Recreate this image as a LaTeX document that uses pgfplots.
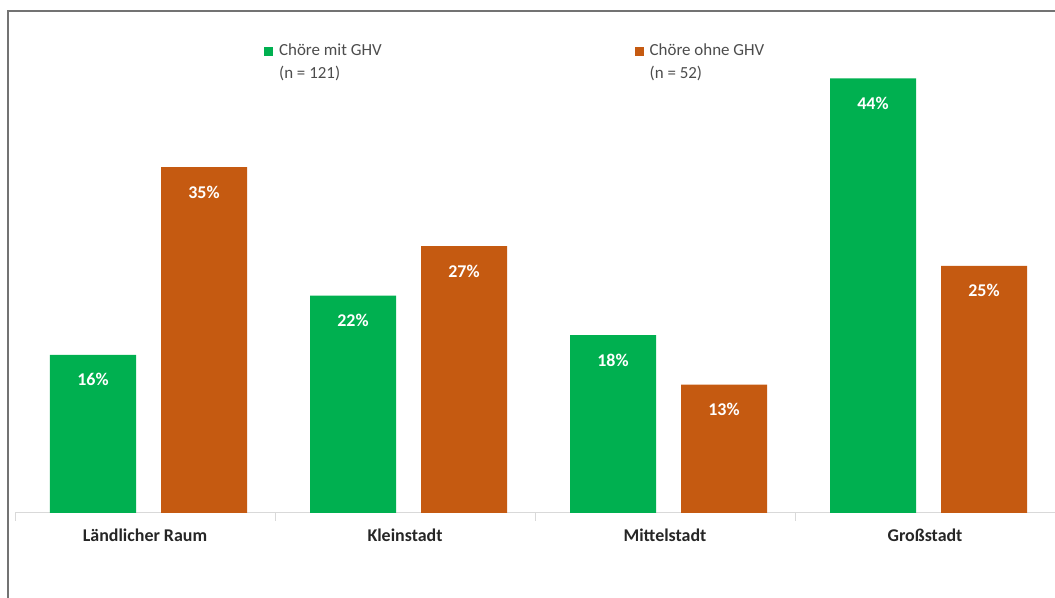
\documentclass[border=0pt]{standalone}
\usepackage{fontspec}
\setmainfont{Carlito}
\usepackage{pgfplots}
\pgfplotsset{compat=1.18}
\definecolor{cgreen}{HTML}{00B050}
\definecolor{corange}{HTML}{C55A11}
\begin{document}
\begin{tikzpicture}[x=1bp,y=1bp]
\path[use as bounding box] (0,0) rectangle (1055,598);
\draw[color=black!55, line width=1.5bp] (8,0) -- (8,587) -- (1055,587);
\begin{axis}[
  at={(15bp,85bp)}, anchor=south west,
  scale only axis, width=1040bp, height=494bp,
  xmin=-0.5, xmax=3.5, ymin=0, ymax=50,
  axis x line=bottom, axis y line=none,
  x axis line style={-, draw=black!15, line width=1bp},
  xtick={0,1,2,3},
  xticklabels={Ländlicher Raum, Kleinstadt, Mittelstadt, Großstadt},
  major tick length=0pt,
  minor xtick={-0.5,0.5,1.5,2.5},
  minor tick length=8bp, tick align=outside,
  minor tick style={draw=black!15},
  xticklabel style={font=\fontsize{18}{20}\selectfont\bfseries, text=black!85, yshift=-12bp},
  /pgf/number format/assume math mode=true,
  ybar, bar width=86bp,
  nodes near coords={\pgfmathprintnumber{\pgfplotspointmeta}\%},
  nodes near coords style={font=\fontsize{18}{20}\selectfont\bfseries, text=white, anchor=north, yshift=-15bp},
  legend columns=2,
  legend image code/.code={\fill[#1] (0bp,5bp) rectangle (9bp,14bp);},
  legend style={at={(0.2365,0.955)}, anchor=north west, draw=none, fill=none,
    font=\fontsize{17}{23}\selectfont, text=black!70,
    nodes={align=left, inner sep=0pt},
    /tikz/every even column/.append style={column sep=253bp},
    /tikz/every odd column/.append style={column sep=6bp}},
]
\addplot[fill=cgreen, draw=none, bar shift=-52bp] coordinates {(0,16) (1,22) (2,18) (3,44)};
\addplot[fill=corange, draw=none, bar shift=59bp] coordinates {(0,35) (1,27) (2,13) (3,25)};
\addlegendentry{Chöre mit GHV\\(n = 121)}
\addlegendentry{Chöre ohne GHV\\(n = 52)}
\end{axis}
\end{tikzpicture}
\end{document}
